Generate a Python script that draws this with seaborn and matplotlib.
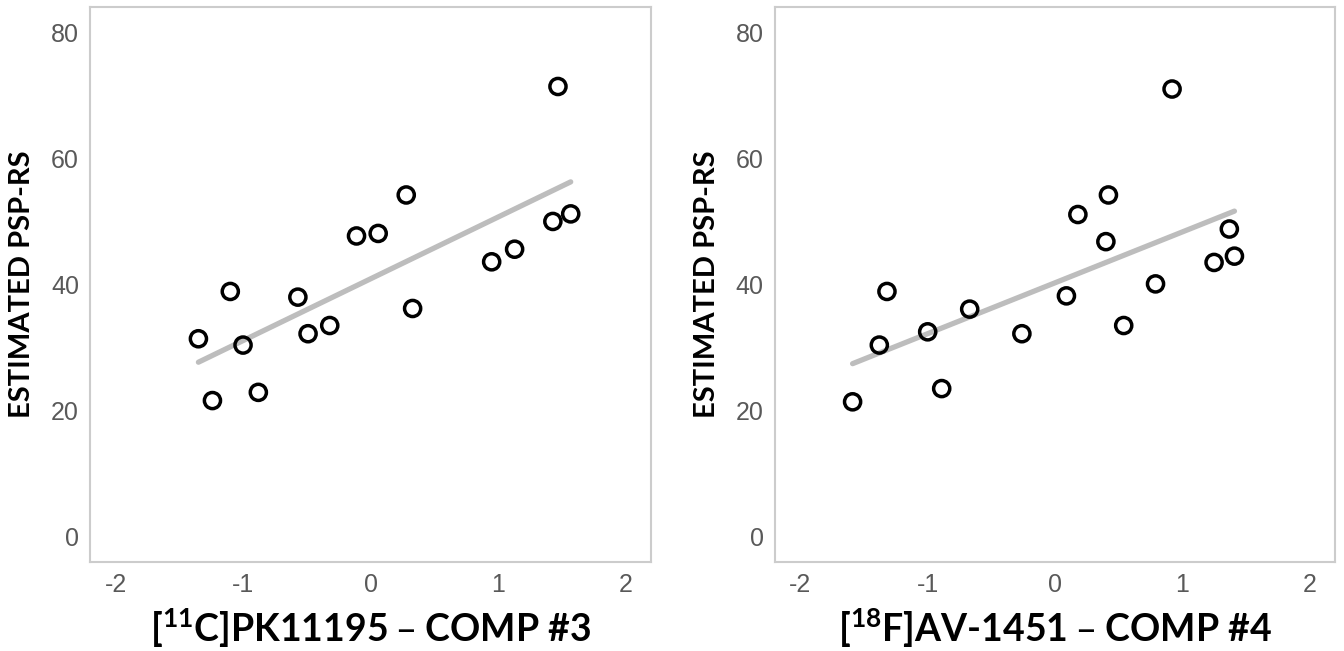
import matplotlib
matplotlib.use("Agg")
import matplotlib.pyplot as plt
import seaborn as sns

# component scores vs estimated PSP-RS
pk_x = [-1.35, -1.24, -1.10, -1.00, -0.88, -0.57, -0.49, -0.32, -0.11,
        0.06, 0.28, 0.33, 0.95, 1.13, 1.43, 1.47, 1.57]
pk_y = [31.4, 21.6, 38.9, 30.4, 22.9, 38.0, 32.2, 33.5, 47.7,
        48.1, 54.2, 36.2, 43.6, 45.6, 50.0, 71.4, 51.2]

av_x = [-1.59, -1.38, -1.32, -1.00, -0.89, -0.67, -0.26, 0.09, 0.18,
        0.40, 0.42, 0.54, 0.79, 0.92, 1.25, 1.37, 1.41]
av_y = [21.4, 30.4, 38.9, 32.5, 23.5, 36.1, 32.2, 38.2, 51.1,
        46.8, 54.2, 33.5, 40.1, 71.0, 43.5, 48.8, 44.5]

x_ticks = [-2, -1, 0, 1, 2]
y_ticks = [0, 20, 40, 60, 80]
y_label = "ESTIMATED PSP-RS"
x_labels = ["[$^{11}$C]PK11195 – COMP #3", "[$^{18}$F]AV-1451 – COMP #4"]

sns.set_style("white")
plt.rcParams["font.family"] = ["Liberation Sans", "DejaVu Sans"]
plt.rcParams["mathtext.default"] = "regular"
plt.rcParams["axes.unicode_minus"] = False

fig = plt.figure(figsize=(13.44, 6.51), dpi=100)
ax1 = fig.add_axes([0.0670, 0.1367, 0.4174, 0.8525])
ax2 = fig.add_axes([0.5766, 0.1367, 0.4167, 0.8525])

for ax, xs, ys, xl in [(ax1, pk_x, pk_y, x_labels[0]), (ax2, av_x, av_y, x_labels[1])]:
    sns.regplot(x=xs, y=ys, ax=ax, ci=None,
                scatter_kws=dict(color="black", facecolors="none", s=135,
                                 linewidths=2.5, alpha=1, zorder=3),
                line_kws=dict(color="#bdbdbd", lw=3.8, zorder=2))
    ax.set_xlim(-2.2, 2.2)
    ax.set_ylim(-4, 84)
    ax.set_xticks(x_ticks)
    ax.set_yticks(y_ticks)
    ax.tick_params(axis="both", length=4, width=1, color="#bbbbbb",
                   labelcolor="#595959", labelsize=18, pad=4)
    for s in ax.spines.values():
        s.set_color("#cccccc")
        s.set_linewidth(1.5)
    ax.set_xlabel(xl, family="Lato", fontweight="bold", fontsize=27,
                  color="black", labelpad=7)
    ax.set_ylabel(y_label, family="Lato", fontweight="bold", fontsize=21,
                  color="black")
    ax.yaxis.set_label_coords(-0.098, 0.5)

fig.savefig("out.png", dpi=100)
